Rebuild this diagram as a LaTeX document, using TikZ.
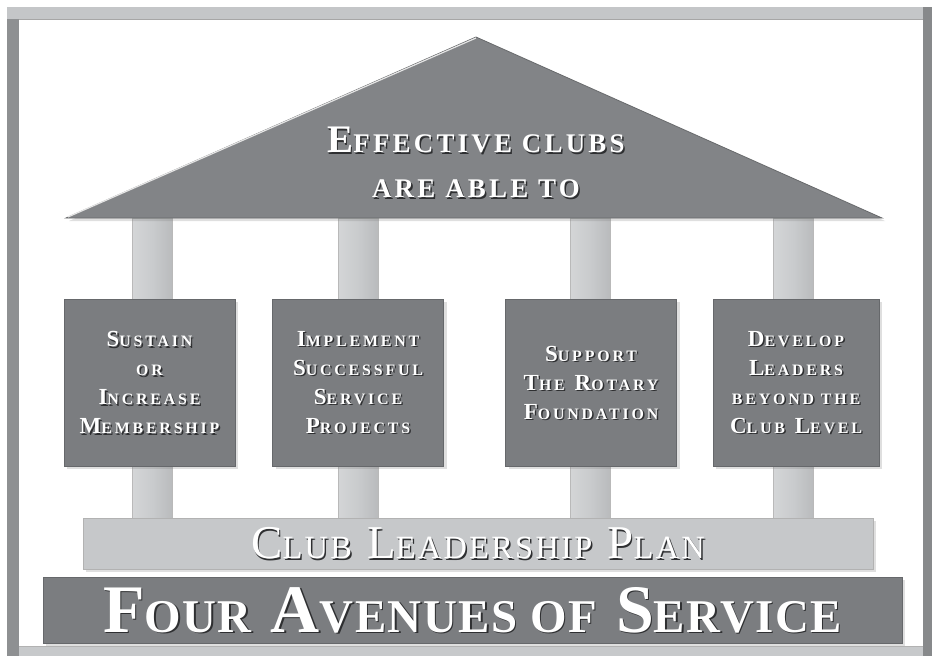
\documentclass[tikz,border=0pt]{standalone}
\usepackage{fontspec}
\setmainfont{Liberation Serif}
\newfontfamily\fTitle{Liberation Serif}[LetterSpace=12]
\newfontfamily\fBox{Liberation Serif}[LetterSpace=18]
\newfontfamily\fLead{Liberation Serif}[LetterSpace=7]
\newfontfamily\fAve{Liberation Serif}[LetterSpace=3]
\usetikzlibrary{shadows}
\definecolor{frameTop}{HTML}{C4C6C8}
\definecolor{frameSide}{HTML}{8E9092}
\definecolor{slate}{HTML}{7B7D80}
\definecolor{slateDark}{HTML}{66686B}
\definecolor{roofcol}{HTML}{828487}
\definecolor{pillarcol}{HTML}{C9CBCD}
\definecolor{leadcol}{HTML}{C6C8CA}
\definecolor{txtsh}{HTML}{2E2F31}
\makeatletter
\newcommand\sm[1]{{\fontsize{\fpeval{0.69*\f@size}}{\baselineskip}\selectfont #1}}
\makeatother
\newcommand\shd[1]{\leavevmode\rlap{\smash{\kern1.5pt\raisebox{-1.5pt}{\color{txtsh}#1}}}#1}
\tikzset{
  softshadow/.style={drop shadow={opacity=0.25,shadow xshift=3pt,shadow yshift=-3pt}},
  pillar/.style={draw=gray!55,line width=0.6pt,left color=pillarcol!80!white,right color=pillarcol!92!black,middle color=pillarcol,shading angle=90,minimum width=40pt,inner sep=0pt},
  slatebox/.style={softshadow,fill=slate,draw=slateDark,line width=1pt,minimum width=171pt,minimum height=167pt,inner sep=0pt,
    align=center,text=white,font=\fBox\fontsize{23}{29}\selectfont\bfseries},
  roofstyle/.style={softshadow,fill=roofcol,draw=roofcol!80!black,line width=0.8pt},
  leadbar/.style={softshadow,fill=leadcol,draw=gray!60,line width=0.8pt,inner sep=0pt,text=white,font=\fLead\fontsize{47}{47}\selectfont},
  avebar/.style={softshadow,fill=slate,draw=slateDark,line width=1pt,inner sep=0pt,text=white,font=\fAve\fontsize{68}{68}\selectfont\bfseries},
  titletext/.style={align=center,text=white,inner sep=0pt,font=\fTitle\fontsize{39}{45}\selectfont\bfseries},
}
\begin{document}
\begin{tikzpicture}[x=1pt,y=-1pt]
\useasboundingbox (0,0) rectangle (932,656);
\fill[white] (0,0) rectangle (932,656);
% frame
\fill[frameTop] (7,7) rectangle (923,19);
\draw[gray!70,line width=0.8pt] (19,19) -- (923,19);
\fill[frameSide] (7,19) rectangle (19,656);
\fill[frameSide!95!black] (923,7) rectangle (932,656);
\fill[frameTop!95!white] (19,646) rectangle (923,656);
\draw[gray!60,line width=0.6pt] (19,646) -- (923,646);
% pillars
\node[pillar,minimum height=300pt] (p1) at (152.5,368) {};
\node[pillar,minimum height=300pt] (p2) at (358,368) {};
\node[pillar,minimum height=300pt] (p3) at (590,368) {};
\node[pillar,minimum height=300pt] (p4) at (793.5,368) {};
% roof
\path[roofstyle] (66,218) -- (476,37) -- (882,218) -- cycle;
\draw[white!80!gray,line width=1.2pt] (68,217) -- (476,38);
\node[titletext] (title) at (476,162.5) {\shd{E\sm{FFECTIVE CLUBS}}\\\shd{\sm{ARE ABLE TO}}};
% boxes
\node[slatebox] (b1) at (149.5,382.5) {\shd{S\sm{USTAIN}}\\\shd{\sm{OR}}\\\shd{I\sm{NCREASE}}\\\shd{M\sm{EMBERSHIP}}};
\node[slatebox] (b2) at (358,382.5) {\shd{I\sm{MPLEMENT}}\\\shd{S\sm{UCCESSFUL}}\\\shd{S\sm{ERVICE}}\\\shd{P\sm{ROJECTS}}};
\node[slatebox] (b3) at (591,382.5) {\shd{S\sm{UPPORT}}\\\shd{T\sm{HE} R\sm{OTARY}}\\\shd{F\sm{OUNDATION}}};
\node[slatebox,minimum width=166pt] (b4) at (796,382.5) {\shd{D\sm{EVELOP}}\\\shd{L\sm{EADERS}}\\\shd{\sm{BEYOND THE}}\\\shd{C\sm{LUB} L\sm{EVEL}}};
% bars
\node[leadbar,minimum width=790pt,minimum height=51pt] (lead) at (478,543.5) {\shd{C\sm{LUB} L\sm{EADERSHIP} P\sm{LAN}}};
\node[avebar,minimum width=859pt,minimum height=66pt] (ave) at (472.5,610) {\shd{F\sm{OUR} A\sm{VENUES OF} S\sm{ERVICE}}};
\end{tikzpicture}
\end{document}
